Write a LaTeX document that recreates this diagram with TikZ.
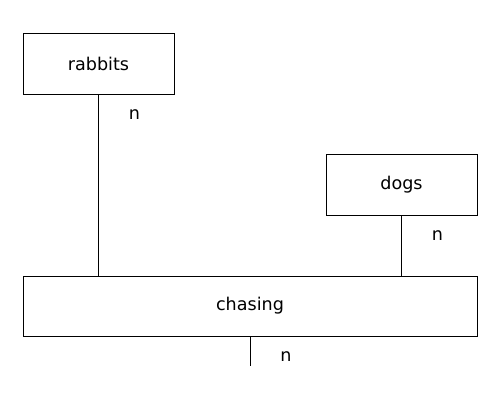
\documentclass[tikz,border=0pt]{standalone}
\usepackage{fontspec}
\setmainfont{DejaVu Sans}
\usepackage{tikz}
\usetikzlibrary{positioning}

\begin{document}
\begin{tikzpicture}[x=0.02cm,y=-0.02cm]
 \tikzstyle{entity} = [draw,rectangle,minimum width=3.02cm,minimum height=1.22cm,font=\fontsize{10}{12}\selectfont,inner sep=0]
 \tikzstyle{relation} = [entity,minimum width=9.08cm,minimum height=1.2cm]
 \tikzstyle{card} = [font=\fontsize{10}{12}\selectfont,inner sep=0]
 \useasboundingbox (0,0) rectangle (500,400);

% Boxes
 \node[entity] (rabbits) at (98.5,63.5) {rabbits};
 \node[entity] (dogs) at (401.5,185) {dogs};
 \node[relation] (chasing) at (250,306) {chasing};
 \coordinate (out) at (250,366);

% Links
 \draw (rabbits.south) -- (rabbits.south |- chasing.north);
 \draw (dogs.south) -- (dogs.south |- chasing.north);
 \draw (chasing.south) -- (out);

% Cardinalities
 \node[card] (nr) at ([xshift=0.72cm,yshift=-0.4cm]rabbits.south) {n};
 \node[card] (nd) at ([xshift=0.72cm,yshift=-0.4cm]dogs.south) {n};
 \node[card] (nc) at ([xshift=0.72cm,yshift=-0.4cm]chasing.south) {n};
\end{tikzpicture}
\end{document}
